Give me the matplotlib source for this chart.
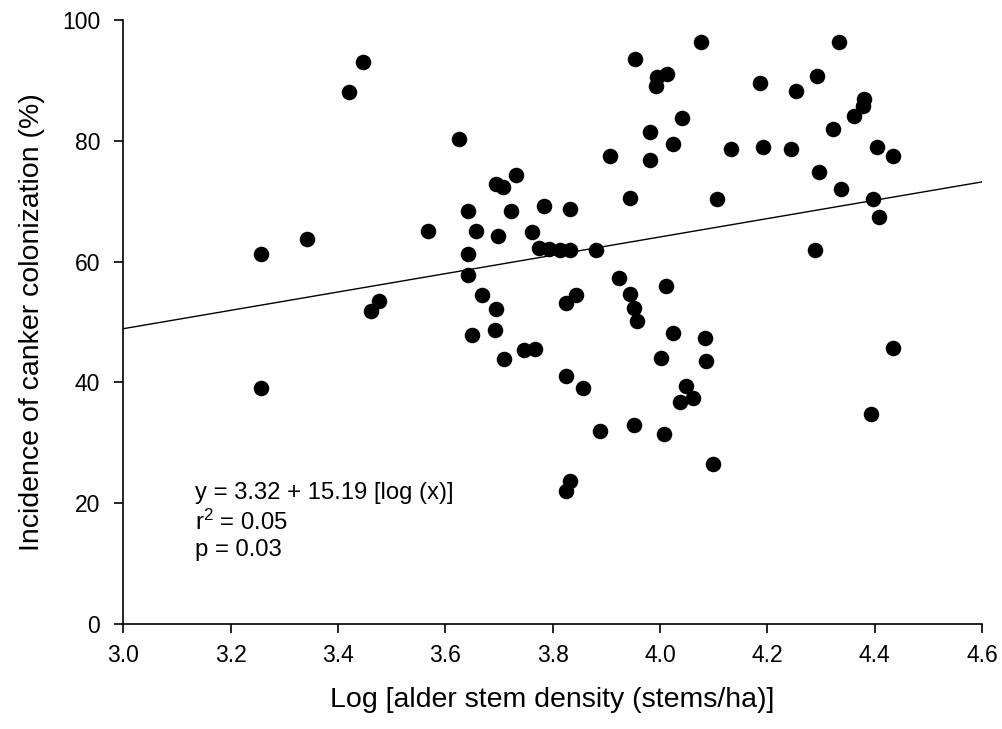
import numpy as np
import matplotlib
matplotlib.use("Agg")
import matplotlib.pyplot as plt

plt.rcParams["font.family"] = ["Liberation Sans", "DejaVu Sans"]

# log stem density vs incidence of canker colonization (%)
log_density = [
    3.256, 3.256, 3.343, 3.421, 3.447, 3.462, 3.476, 3.568, 3.626, 3.643,
    3.643, 3.643, 3.650, 3.658, 3.668, 3.694, 3.708, 3.732, 3.698, 3.694,
    3.692, 3.709, 3.722, 3.747, 3.768, 3.762, 3.774, 3.793, 3.813, 3.833,
    3.881, 3.783, 3.832, 3.824, 3.825, 3.844, 3.832, 3.824, 3.857, 3.888,
    3.907, 3.924, 3.944, 3.945, 3.951, 3.957, 3.951, 3.954, 3.982, 3.982,
    3.992, 3.995, 4.013, 4.001, 4.008, 4.011, 4.025, 4.024, 4.041, 4.038,
    4.049, 4.061, 4.076, 4.084, 4.086, 4.098, 4.107, 4.133, 4.186, 4.192,
    4.244, 4.254, 4.289, 4.292, 4.297, 4.323, 4.334, 4.337, 4.361, 4.378,
    4.381, 4.394, 4.396, 4.405, 4.408, 4.435, 4.435,
]
incidence = [
    61.2, 39.0, 63.8, 88.1, 93.1, 51.9, 53.4, 65.0, 80.3, 68.3,
    61.2, 57.7, 47.9, 65.0, 54.4, 72.9, 72.4, 74.3, 64.2, 52.2,
    48.7, 43.8, 68.3, 45.3, 45.5, 64.9, 62.2, 62.1, 61.9, 61.9,
    62.0, 69.2, 68.7, 41.1, 53.2, 54.4, 23.6, 22.0, 39.0, 32.0,
    77.5, 57.3, 70.6, 54.7, 52.3, 50.1, 32.9, 93.5, 81.4, 76.9,
    89.0, 90.6, 91.0, 44.0, 31.4, 56.0, 79.4, 48.2, 83.8, 36.7,
    39.4, 37.5, 96.4, 47.4, 43.6, 26.5, 70.4, 78.7, 89.5, 79.0,
    78.7, 88.2, 61.9, 90.8, 74.9, 81.9, 96.4, 72.0, 84.1, 85.7,
    86.9, 34.8, 70.3, 79.0, 67.3, 77.5, 45.7,
]

# regression from the paper: y = 3.32 + 15.19 * log(x)
intercept = 3.32
slope = 15.19
x_ticks = [3.0, 3.2, 3.4, 3.6, 3.8, 4.0, 4.2, 4.4, 4.6]
y_ticks = [0, 20, 40, 60, 80, 100]

fig = plt.figure(figsize=(10.03, 7.29), dpi=100)
ax = fig.add_axes([0.1229, 0.144, 0.8562, 0.8286])

ax.scatter(log_density, incidence, s=125, color="black", zorder=3, linewidths=0)

xfit = np.array([3.0, 4.6])
ax.plot(xfit, intercept + slope * xfit, color="black", linewidth=1.0, zorder=2)

ax.set_xlim(3.0, 4.6)
ax.set_ylim(0, 100)
ax.set_xticks(x_ticks)
ax.set_xticklabels([f"{t:.1f}" for t in x_ticks])
ax.set_yticks(y_ticks)

for side in ["top", "right"]:
    ax.spines[side].set_visible(False)
for side in ["left", "bottom"]:
    ax.spines[side].set_linewidth(1.2)
ax.tick_params(direction="out", length=6.5, width=1.2, labelsize=16.5)
ax.tick_params(axis="x", pad=8)
ax.tick_params(axis="y", pad=10)

ax.set_xlabel("Log [alder stem density (stems/ha)]", fontsize=20.5)
ax.set_ylabel("Incidence of canker colonization (%)", fontsize=20.5)
ax.xaxis.set_label_coords(0.5, -0.1036)
ax.yaxis.set_label_coords(-0.0912, 0.5)

ax.text(0.0835, 0.2348,
        "y = 3.32 + 15.19 [log (x)]\n$\\mathregular{r^2}$ = 0.05\np = 0.03",
        transform=ax.transAxes, fontsize=17.2, va="top", ha="left",
        linespacing=1.25)

fig.savefig("out.png", dpi=100)
plt.close(fig)
